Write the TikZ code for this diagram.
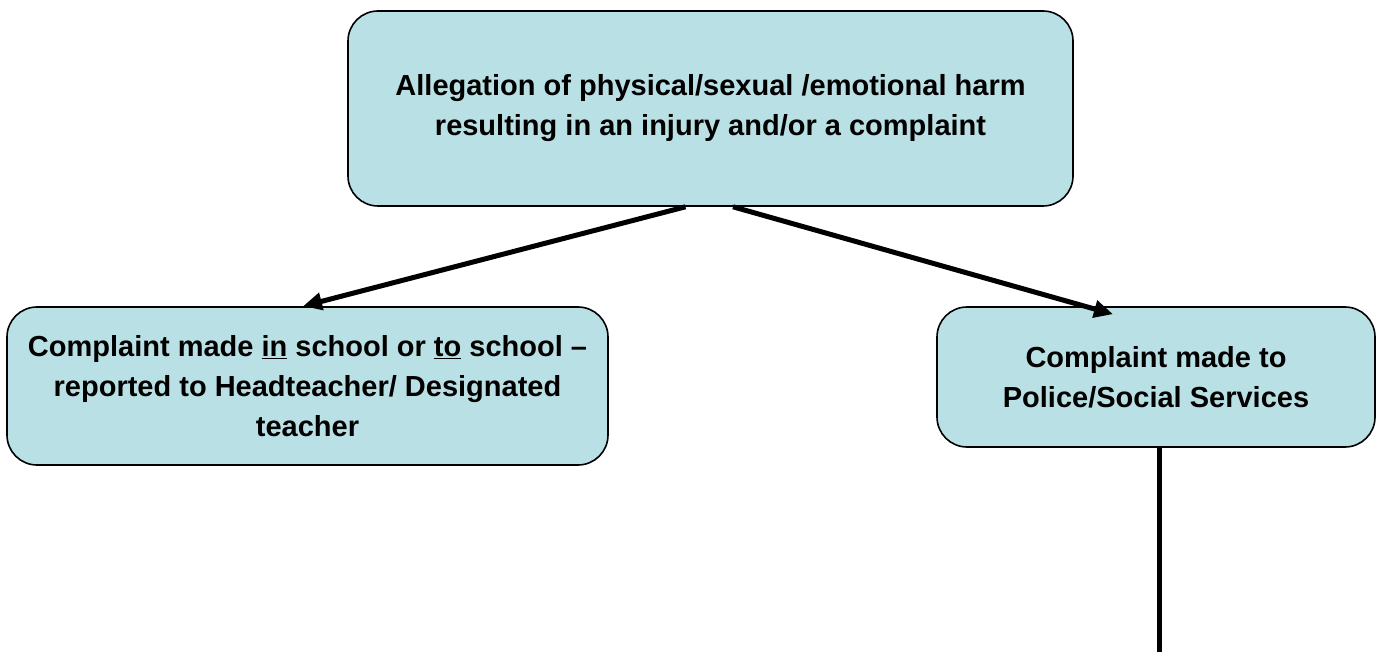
\documentclass[tikz,border=0pt]{standalone}
\usepackage{fontspec}
\setmainfont{Liberation Sans}
\usetikzlibrary{arrows.meta,calc}
\definecolor{boxfill}{RGB}{185,224,228}
\tikzset{
  flowbox/.style={draw=black, line width=1.6pt, fill=boxfill, rounded corners=30pt,
    align=center, inner sep=0pt, font=\bfseries\fontsize{29}{40}\selectfont},
  conn/.style={line width=5pt, -{Triangle[length=19pt,width=17pt]}},
  plainconn/.style={line width=5pt}
}
\begin{document}
\begin{tikzpicture}[x=1pt,y=-1pt]
\useasboundingbox (0,0) rectangle (1381,652);
\node[flowbox, minimum width=725pt, minimum height=195pt] (top) at (710.5,108.5)
  {Allegation of physical/sexual /emotional harm\\resulting in an injury and/or a complaint};
\node[flowbox, minimum width=601pt, minimum height=158pt] (left) at (307.5,386)
  {Complaint made \underline{in} school or \underline{to} school --\\reported to Headteacher/ Designated\\teacher};
\node[flowbox, minimum width=438pt, minimum height=140pt] (right) at (1156,377)
  {Complaint made to\\Police/Social Services};
\coordinate (bottomend) at (1159,652);
\draw[conn] ($(top.south)+(-25,0)$) -- ($(left.north)+(-4.5,0)$);
\draw[conn] ($(top.south)+(22.5,0)$) -- ($(right.north)+(-43,8)$);
\draw[plainconn] ($(right.south)+(3,0)$) -- (bottomend);
\end{tikzpicture}
\end{document}
